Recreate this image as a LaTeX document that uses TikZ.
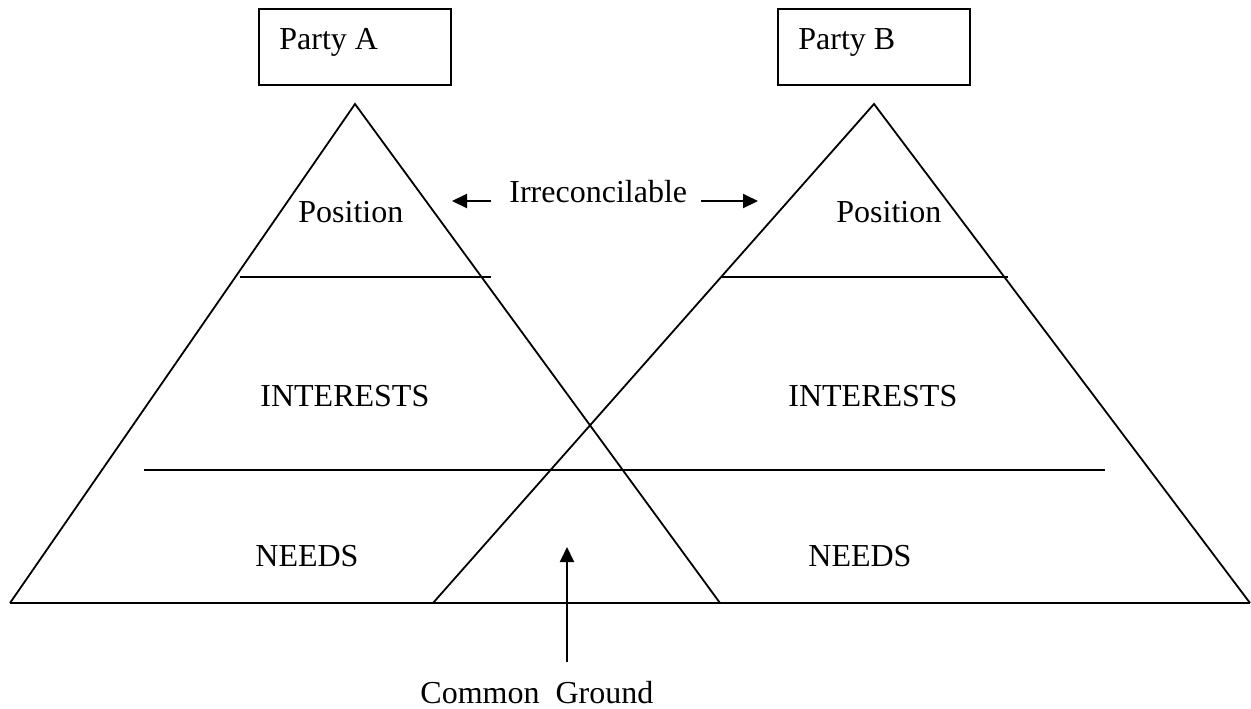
\documentclass[tikz,border=0pt]{standalone}
\usepackage{fontspec}
\setmainfont{Liberation Serif}
\usetikzlibrary{arrows.meta}
\begin{document}
\begin{tikzpicture}[x=0.5pt,y=-0.5pt,
  lbl/.style={anchor=base west,inner sep=0pt,font=\fontsize{16}{18}\selectfont},
  side/.style={line width=0.9pt},
  thick base/.style={line width=1.4pt},
  partybox/.style={draw,line width=1pt},
  arr/.style={line width=1pt,-{Triangle[length=7.5pt,width=7pt]}}]
\useasboundingbox (0,0) rectangle (1251,708);
% boxes
\draw[partybox] (259,9) rectangle (451,85);
\draw[partybox] (778,9) rectangle (970,85);
\node[lbl] (pa) at (279,49) {Party A};
\node[lbl] (pb) at (798,49) {Party B};
% triangles
\coordinate (aT) at (355,104);
\coordinate (aL) at (10,603);
\coordinate (aR) at (720,603);
\coordinate (bT) at (874,104);
\coordinate (bL) at (433,603);
\coordinate (bR) at (1250,603);
\draw[side] (aL) -- (aT) -- (aR);
\draw[side] (bL) -- (bT) -- (bR);
\draw[thick base] (aL) -- (bR);
% level lines
\draw[side] (240,277) -- (491,277);
\draw[side] (722,277) -- (1008,277);
\draw[side] (144,470) -- (1105,470);
% labels
\node[lbl] (posa) at (298,222) {Position};
\node[lbl] (posb) at (836,222) {Position};
\node[lbl] (irr) at (509,202) {Irreconcilable};
\node[lbl] (inta) at (260,406) {INTERESTS};
\node[lbl] (intb) at (788,406) {INTERESTS};
\node[lbl] (needa) at (255,566) {NEEDS};
\node[lbl] (needb) at (808,566) {NEEDS};
\node[lbl] (cg) at (420,703) {Common\ \ Ground};
% arrows
\coordinate (l1) at (491,201);
\coordinate (l2) at (452,201);
\coordinate (r1) at (701,201);
\coordinate (r2) at (758,201);
\coordinate (u1) at (567,662);
\coordinate (u2) at (567,547);
\draw[arr] (l1) -- (l2);
\draw[arr] (r1) -- (r2);
\draw[arr] (u1) -- (u2);
\end{tikzpicture}
\end{document}
